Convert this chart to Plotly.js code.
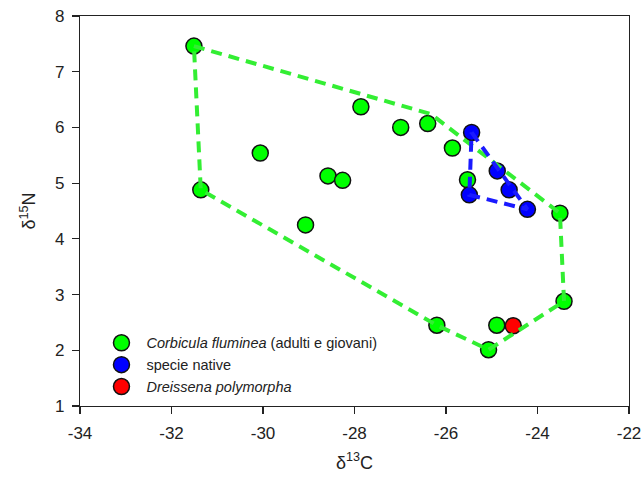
<!DOCTYPE html>
<html>
<head>
<meta charset="utf-8">
<script src="https://cdn.plot.ly/plotly-3.0.1.min.js"></script>
<style>html,body{margin:0;padding:0;background:#fff;}#chart{width:643px;height:486px;}</style>
</head>
<body>
<div id="chart"></div>
<script>
// Corbicula fluminea (adulti e giovani)
var corbX = [-31.51, -31.36, -30.06, -29.07, -28.58, -28.26, -27.86, -26.99, -26.40, -25.86, -25.53, -23.51, -23.42, -26.20, -25.07, -24.89];
var corbY = [7.46, 4.88, 5.54, 4.25, 5.13, 5.05, 6.37, 6.00, 6.07, 5.63, 5.06, 4.46, 2.88, 2.45, 2.01, 2.45];
// specie native
var natX = [-25.44, -24.88, -24.62, -25.49, -24.22];
var natY = [5.91, 5.22, 4.88, 4.79, 4.53];
// Dreissena polymorpha
var dreX = [-24.53];
var dreY = [2.44];
// hull outlines
var corbHullX = [-31.51, -26.33, -23.51, -23.42, -25.07, -26.20, -31.36, -31.51];
var corbHullY = [7.46, 6.24, 4.46, 2.88, 2.01, 2.45, 4.88, 7.46];
var natHullX = [-25.44, -24.22, -25.49, -25.44];
var natHullY = [5.91, 4.53, 4.79, 5.91];

var xTicks = [-34, -32, -30, -28, -26, -24, -22];
var yTicks = [1, 2, 3, 4, 5, 6, 7, 8];

var mk = function(c){ return {size: 16, color: c, line: {color: '#111', width: 1.5}}; };

var traces = [
  {x: corbX, y: corbY, type: 'scatter', mode: 'markers', marker: mk('#00ff00'),
   name: '<i>Corbicula fluminea</i> (adulti e giovani)'},
  {x: natX, y: natY, type: 'scatter', mode: 'markers', marker: mk('#0000ff'),
   name: 'specie native'},
  {x: dreX, y: dreY, type: 'scatter', mode: 'markers', marker: mk('#ff0000'),
   name: '<i>Dreissena polymorpha</i>'},
  {x: corbHullX, y: corbHullY, type: 'scatter', mode: 'lines', showlegend: false, hoverinfo: 'skip',
   line: {color: '#33ee33', width: 4, dash: '11px,7px'}},
  {x: natHullX, y: natHullY, type: 'scatter', mode: 'lines', showlegend: false, hoverinfo: 'skip',
   line: {color: '#1a1aff', width: 4, dash: '11px,7px'}}
];

var axisCommon = {
  showgrid: false, zeroline: false, showline: true, linecolor: '#222', linewidth: 1.2,
  mirror: true, ticks: 'outside', ticklen: 7, tickcolor: '#222', tickwidth: 1.2,
  ticklabelstandoff: 4,
  tickfont: {family: 'Liberation Sans, Arial, sans-serif', size: 17, color: '#222'}
};

var layout = {
  width: 643, height: 486,
  margin: {l: 80, r: 14, t: 16, b: 80},
  paper_bgcolor: '#fff', plot_bgcolor: '#fff',
  font: {family: 'Liberation Sans, Arial, sans-serif', color: '#222'},
  xaxis: Object.assign({}, axisCommon, {
    range: [-34, -22], tickvals: xTicks, ticktext: xTicks.map(String),
    title: {text: 'δ<sup>13</sup>C', font: {size: 18, color: '#222'}, standoff: 14}
  }),
  yaxis: Object.assign({}, axisCommon, {
    range: [1, 8], tickvals: yTicks, ticktext: yTicks.map(String),
    title: {text: 'δ<sup>15</sup>N', font: {size: 18, color: '#222'}, standoff: 14}
  }),
  showlegend: true,
  legend: {x: 0.03, y: 0.008, xanchor: 'left', yanchor: 'bottom', bgcolor: 'rgba(255,255,255,0)',
    font: {family: 'Liberation Sans, Arial, sans-serif', size: 14.5, color: '#222'},
    itemwidth: 40, tracegroupgap: 0}
};

Plotly.newPlot('chart', traces, layout, {displayModeBar: false, staticPlot: true});
</script>
</body>
</html>
